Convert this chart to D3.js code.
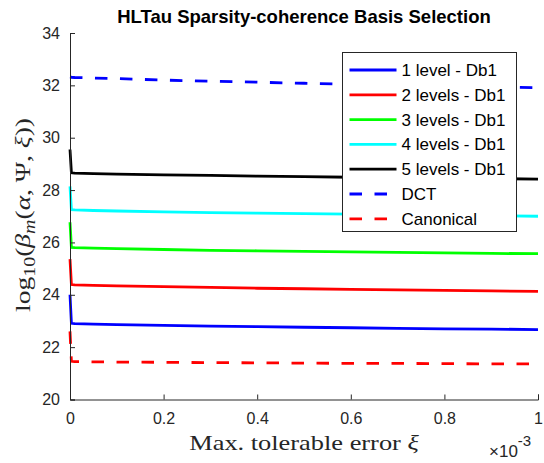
<!DOCTYPE html>
<html>
<head>
<meta charset="utf-8">
<script src="https://cdn.jsdelivr.net/npm/d3@7"></script>
<style>
  body { margin: 0; background: #fff; }
  text { font-family: "Liberation Sans", Arial, sans-serif; }
  .math { font-family: "Liberation Serif", "DejaVu Serif", serif; }
</style>
</head>
<body>
<div id="chart_div"></div>
<script>
// tolerable error, in units of 1e-3
var xi = [0, 0.003, 0.01, 0.05, 0.1, 0.2, 0.3, 0.4, 0.5, 0.6, 0.7, 0.8, 0.9, 1]

var level1 = [24.0, 22.91, 22.9, 22.88, 22.86, 22.83, 22.8, 22.78, 22.76, 22.74, 22.72, 22.7, 22.69, 22.67]
var level2 = [25.36, 24.39, 24.38, 24.36, 24.34, 24.31, 24.28, 24.25, 24.23, 24.21, 24.19, 24.17, 24.15, 24.13]
var level3 = [26.77, 25.81, 25.8, 25.78, 25.76, 25.73, 25.7, 25.68, 25.66, 25.64, 25.62, 25.6, 25.58, 25.57]
var level4 = [28.14, 27.25, 27.24, 27.22, 27.2, 27.17, 27.14, 27.12, 27.1, 27.08, 27.06, 27.04, 27.02, 27.0]
var level5 = [29.55, 28.66, 28.65, 28.63, 28.61, 28.58, 28.56, 28.53, 28.51, 28.49, 28.47, 28.45, 28.44, 28.42]
var dct = [32.32, 32.31, 32.3, 32.28, 32.26, 32.2, 32.16, 32.12, 32.08, 32.04, 32.0, 31.97, 31.94, 31.91]
var canonical = [22.6, 21.46, 21.45, 21.44, 21.43, 21.42, 21.41, 21.4, 21.39, 21.38, 21.38, 21.37, 21.36, 21.36]

var seriesNames = ['1 level - Db1', '2 levels - Db1', '3 levels - Db1', '4 levels - Db1', '5 levels - Db1', 'DCT', 'Canonical']
var seriesValues = [level1, level2, level3, level4, level5, dct, canonical]
var seriesColors = ['#0000ff', '#ff0000', '#00ff00', '#00ffff', '#000000', '#0000ff', '#ff0000']
var seriesDashed = [false, false, false, false, false, true, true]

var xTicks = [0, 0.2, 0.4, 0.6, 0.8, 1]
var yTicks = [20, 22, 24, 26, 28, 30, 32, 34]

var W = 544, H = 463
var margin = {top: 33, right: 6, bottom: 63.5, left: 70},
    width = W - margin.left - margin.right,
    height = H - margin.top - margin.bottom;

var svg = d3.select('#chart_div').append('svg')
  .attr('width', W)
  .attr('height', H)

var g = svg.append('g')
  .attr('transform', 'translate(' + margin.left + ',' + margin.top + ')')

var xScale = d3.scaleLinear().domain([0, 1]).range([0, width])
var yScale = d3.scaleLinear().domain([20, 34]).range([height, 0])

// lines
var line = d3.line()
  .x(function(d) { return xScale(d[0]) })
  .y(function(d) { return yScale(d[1]) })

seriesValues.forEach(function(vals, i) {
  g.append('path')
    .datum(xi.map(function(x, j) { return [x, vals[j]] }))
    .attr('fill', 'none')
    .attr('stroke', seriesColors[i])
    .attr('stroke-width', 2.8)
    .attr('stroke-dasharray', seriesDashed[i] ? '12.5,12.5' : null)
    .attr('d', line)
})

// axes (MATLAB style: ticks inside, no box)
g.append('g')
  .attr('class', 'xaxis')
  .attr('transform', 'translate(0,' + height + ')')
  .call(d3.axisBottom(xScale).tickValues(xTicks).tickSize(-5).tickPadding(13)
    .tickFormat(function(d) { return d3.format('')(d) }))

g.append('g')
  .attr('class', 'yaxis')
  .call(d3.axisLeft(yScale).tickValues(yTicks).tickSize(-5).tickPadding(10))

svg.selectAll('.xaxis path.domain, .yaxis path.domain')
  .attr('stroke', '#262626')
svg.selectAll('.tick line').attr('stroke', '#262626')
svg.selectAll('.tick text')
  .attr('fill', '#262626')
  .style('font-family', '"Liberation Sans", Arial, sans-serif')
  .style('font-size', '16px')

// exponent multiplier
var mult = svg.append('text')
  .attr('x', 489)
  .attr('y', 457)
  .attr('fill', '#262626')
  .style('font-size', '17px')
mult.append('tspan').text('\u00d710')
mult.append('tspan').attr('dy', -11).style('font-size', '15px').text('-3')

// title
svg.append('text')
  .attr('x', margin.left + width / 2)
  .attr('y', 23)
  .attr('text-anchor', 'middle')
  .attr('font-weight', 'bold')
  .style('font-size', '18.5px')
  .text('HLTau Sparsity-coherence Basis Selection')

// x label (stretched a bit, LaTeX font is wider)
var xl = svg.append('text')
  .attr('class', 'math')
  .attr('transform', 'translate(' + (margin.left + width / 2) + ',450) scale(1.2,1)')
  .attr('text-anchor', 'middle')
  .attr('fill', '#262626')
  .style('font-size', '22px')
xl.append('tspan').text('Max.  tolerable error ')
xl.append('tspan').attr('font-style', 'italic').text('\u03be')

// y label
var yl = svg.append('text')
  .attr('class', 'math')
  .attr('transform', 'translate(30,215) rotate(-90) scale(1.25,1)')
  .attr('text-anchor', 'middle')
  .attr('fill', '#262626')
  .style('font-size', '22px')
yl.append('tspan').text('log')
yl.append('tspan').attr('dy', 5).style('font-size', '16px').text('10')
yl.append('tspan').attr('dy', -5).text('(')
yl.append('tspan').attr('font-style', 'italic').text('\u03b2')
yl.append('tspan').attr('dy', 5).attr('font-style', 'italic').style('font-size', '16px').text('m')
yl.append('tspan').attr('dy', -5).text('(')
yl.append('tspan').attr('font-style', 'italic').text('\u03b1')
yl.append('tspan').text(', \u03a8, ')
yl.append('tspan').attr('font-style', 'italic').text('\u03be')
yl.append('tspan').text('))')

// legend
var legend = svg.append('g').attr('transform', 'translate(342.5,52.5)')
legend.append('rect')
  .attr('width', 174)
  .attr('height', 179)
  .attr('fill', '#fff')
  .attr('stroke', '#262626')
  .attr('stroke-width', 1)

var rows = legend.selectAll('g.row')
  .data(seriesNames)
  .enter().append('g')
  .attr('class', 'row')
  .attr('transform', function(d, i) { return 'translate(0,' + (17.5 + i * 24.8) + ')' })

rows.append('line')
  .attr('x1', 7)
  .attr('x2', 54)
  .attr('stroke', function(d, i) { return seriesColors[i] })
  .attr('stroke-width', 2.8)
  .attr('stroke-dasharray', function(d, i) { return seriesDashed[i] ? '12.5,12.5' : null })

rows.append('text')
  .attr('x', 59)
  .attr('y', 6)
  .attr('fill', '#000')
  .style('font-size', '17px')
  .text(function(d) { return d })
</script>
</body>
</html>
